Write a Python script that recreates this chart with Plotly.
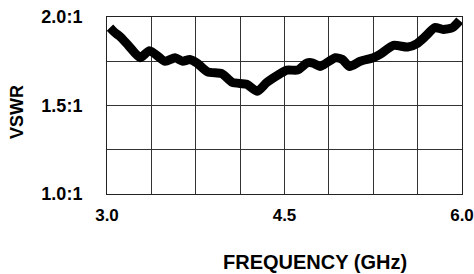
import plotly.graph_objects as go

freq = [3.025, 3.07, 3.11, 3.18, 3.28, 3.36, 3.49, 3.575, 3.64, 3.70, 3.76, 3.85, 3.97, 4.06,
        4.18, 4.27, 4.35, 4.44, 4.52, 4.61, 4.69, 4.74, 4.80, 4.83, 4.93, 4.99, 5.05, 5.14,
        5.25, 5.31, 5.42, 5.54, 5.62, 5.69, 5.77, 5.84, 5.92, 5.98]
vswr = [1.94, 1.91, 1.89, 1.84, 1.77, 1.81, 1.75, 1.77, 1.75, 1.76, 1.74, 1.69, 1.68, 1.63,
        1.62, 1.58, 1.63, 1.67, 1.70, 1.70, 1.74, 1.74, 1.72, 1.73, 1.77, 1.76, 1.72, 1.75,
        1.77, 1.79, 1.84, 1.83, 1.85, 1.89, 1.94, 1.93, 1.94, 1.98]

x_tickvals = [3.0 + 0.375 * k for k in range(9)]
x_ticktext = ["3.0", "", "", "", "4.5", "", "", "", "6.0"]
y_tickvals = [1.0, 1.25, 1.5, 1.75, 2.0]
y_ticktext = ["1.0:1", "", "1.5:1", "", "2.0:1"]

font = "Liberation Sans, Arial, sans-serif"

fig = go.Figure()
fig.add_trace(go.Scatter(x=freq, y=vswr, mode="lines",
                         line=dict(color="black", width=9, shape="spline", smoothing=0.6),
                         hoverinfo="skip", showlegend=False))

L, R, T, B = 107, 12, 17, 80
fig.update_layout(
    width=474, height=274,
    margin=dict(l=L, r=R, t=T, b=B, autoexpand=False),
    paper_bgcolor="white", plot_bgcolor="white",
    font=dict(family=font, color="black"),
    xaxis=dict(range=[3.0, 6.0], tickvals=x_tickvals, ticktext=x_ticktext,
               showgrid=True, gridcolor="#333333", gridwidth=1,
               showline=True, linecolor="#222222", linewidth=1, mirror=True,
               ticks="", ticklabelstandoff=6, zeroline=False, automargin=False,
               tickfont=dict(family=font, size=17, color="black", weight="bold")),
    yaxis=dict(range=[1.0, 2.0], tickvals=y_tickvals, ticktext=y_ticktext,
               showgrid=True, gridcolor="#333333", gridwidth=1,
               showline=True, linecolor="#222222", linewidth=1, mirror=True,
               ticks="", ticklabelstandoff=20, zeroline=False, automargin=False,
               tickfont=dict(family=font, size=18, color="black", weight="bold")),
)

pw, ph = 474 - L - R, 274 - T - B
def ann(text, px, py, size, angle=0):
    fig.add_annotation(text=text, x=(px - L) / pw, y=1 - (py - T) / ph,
                       xref="paper", yref="paper", xanchor="center", yanchor="middle",
                       showarrow=False, textangle=angle,
                       font=dict(family=font, size=size, color="black"))

ann("<b>FREQUENCY (GHz)</b>", 315, 262, 20)
ann("<b>VSWR</b>", 17, 112, 18, -90)

fig.write_html("out.html", config={"displayModeBar": False},
               post_script="document.body.style.margin='0';document.body.style.overflow='hidden';")
